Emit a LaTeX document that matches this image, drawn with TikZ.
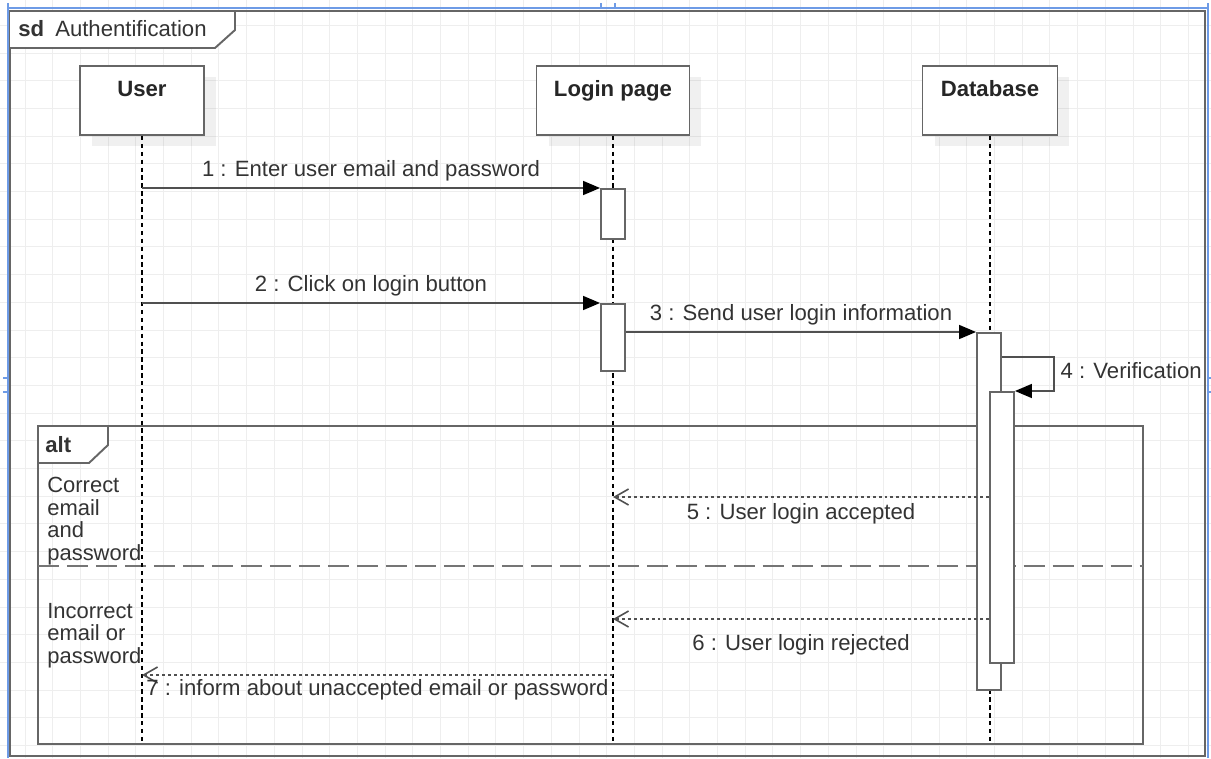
\documentclass[tikz,border=0pt]{standalone}
\usepackage{fontspec}
\setmainfont{Liberation Sans}
\usetikzlibrary{arrows.meta, calc, shadows}
\definecolor{framegray}{RGB}{102,102,102}
\definecolor{msggray}{RGB}{80,80,80}
\definecolor{txtcol}{RGB}{51,51,51}
\definecolor{gridcol}{RGB}{238,238,238}
\definecolor{selblue}{RGB}{110,155,230}

\begin{document}
\begin{tikzpicture}[x=0.02cm, y=-0.02cm,
    every node/.style={font=\fontsize{12.6}{14.8}\selectfont, text=txtcol},
    headbox/.style={draw=framegray, line width=1.1pt, fill=white, minimum height=1.38cm,
        drop shadow={shadow xshift=0.24cm, shadow yshift=-0.22cm, fill=black, opacity=0.06}},
    headtxt/.style={font=\fontsize{12.6}{14.8}\selectfont\bfseries, text=black!85, anchor=base},
    act/.style={draw=framegray, line width=1.1pt, fill=white, minimum width=0.48cm, anchor=north, inner sep=0pt},
    lifeline/.style={black, line width=0.8pt, dash pattern=on 2.5pt off 2pt},
    sync/.style={draw=msggray, line width=0.9pt, -{Triangle[length=0.34cm, width=0.28cm, color=black]}},
    reply/.style={draw=msggray, line width=0.9pt, dash pattern=on 1.7pt off 1.7pt,
        -{Straight Barb[length=0.28cm, width=0.32cm, color=msggray]}},
    frame/.style={draw=framegray, line width=1.1pt},
    guard/.style={font=\fontsize{12.5}{12.8}\selectfont, align=left, anchor=north west, inner sep=0pt}]

    \useasboundingbox (0,0) rectangle (1211,758);

    % grid
    \foreach \i in {0,...,42} \draw[gridcol, line width=0.5pt] ({25+27.7*\i},0) -- ({25+27.7*\i},758);
    \foreach \j in {0,...,26} \draw[gridcol, line width=0.5pt] (0,{25.3+27.7*\j}) -- (1211,{25.3+27.7*\j});

    \draw[selblue, line width=1.4pt] (9,8) -- (1208,8);
    \draw[selblue, line width=1.4pt] (8,3) -- (8,758);
    \draw[selblue, line width=1.4pt] (1208,3) -- (1208,758);
    \draw[selblue, line width=0.6pt] (601,3) -- (601,8) (615,3) -- (615,8);
    \draw[selblue, line width=0.6pt] (3,378) -- (8,378) (3,392) -- (8,392);
    \draw[selblue, line width=0.6pt] (1208,378) -- (1211,378) (1208,392) -- (1211,392);

    \draw[frame] (10,11) rectangle (1205,756);
    \draw[frame, fill=white] (10,11) -- (235,11) -- (235,30) -- (215,48) -- (10,48);
    \node[anchor=base west, inner sep=0pt] (sdname) at (18,36) {\textbf{sd}\hspace{0.5em}Authentification};

    % alt fragment
    \draw[frame] (38,426) rectangle (1143,744);
    \draw[frame, fill=white] (38,426) -- (108,426) -- (108,445) -- (89,463) -- (38,463) -- cycle;
    \node[anchor=base west, inner sep=0pt] (altname) at (45,452) {\textbf{alt}};
    \draw[draw=framegray!90, line width=1.1pt, dash pattern=on 12pt off 4.5pt] (38,566) -- (1143,566);
    \node[guard] (okguard) at (47,477) {Correct\\email\\and\\password};
    \node[guard] (koguard) at (47,603) {Incorrect\\email or\\password};

    % lifelines
    \node[headbox, minimum width=2.48cm] (user) at (142,100.5) {};
    \node[headbox, minimum width=3.06cm] (login) at (613,100.5) {};
    \node[headbox, minimum width=2.7cm] (db) at (990,100.5) {};
    \node[headtxt] (userlbl) at (142,96) {User};
    \node[headtxt] (loginlbl) at (613,96) {Login page};
    \node[headtxt] (dblbl) at (990,96) {Database};

    \coordinate (bot) at (0,743);
    \draw[lifeline] (user.south) -- (user.south |- bot);
    \draw[lifeline] (login.south) -- (login.south |- bot);
    \draw[lifeline] (db.south) -- (db.south |- bot);

    \node[act, minimum height=1cm] (lp1) at (613,188) {};
    \node[act, minimum height=1.34cm] (lp2) at (613,303) {};
    \node[act, minimum height=7.14cm] (db1) at (989,332) {};
    \node[act, minimum height=5.42cm] (db2) at (1002,391) {};

    % messages
    \draw[sync] (user |- lp1.north) -- (lp1.north west) node[midway, above] {1 : Enter user email and password};
    \draw[sync] (user |- lp2.north) -- (lp2.north west) node[midway, above] {2 : Click on login button};
    \draw[sync] (lp2.east |- db1.north) -- (db1.north west) node[midway, above] {3 : Send user login information};
    \draw[sync] ($(db1.north east)+(0,25)$) -- ++(52,0) |- node[pos=0.2, right] {4 : Verification} (db2.north east);

    \coordinate (r5) at (0,497);
    \coordinate (r6) at (0,619);
    \coordinate (r7) at (0,675);
    \draw[reply] (db2.west |- r5) -- (login |- r5) node[midway, below] {5 : User login accepted};
    \draw[reply] (db2.west |- r6) -- (login |- r6) node[midway, below=5pt] {6 : User login rejected};
    \draw[reply] (login |- r7) -- (user |- r7) node[midway, below=-1pt] {7 : inform about unaccepted email or password};

\end{tikzpicture}
\end{document}
